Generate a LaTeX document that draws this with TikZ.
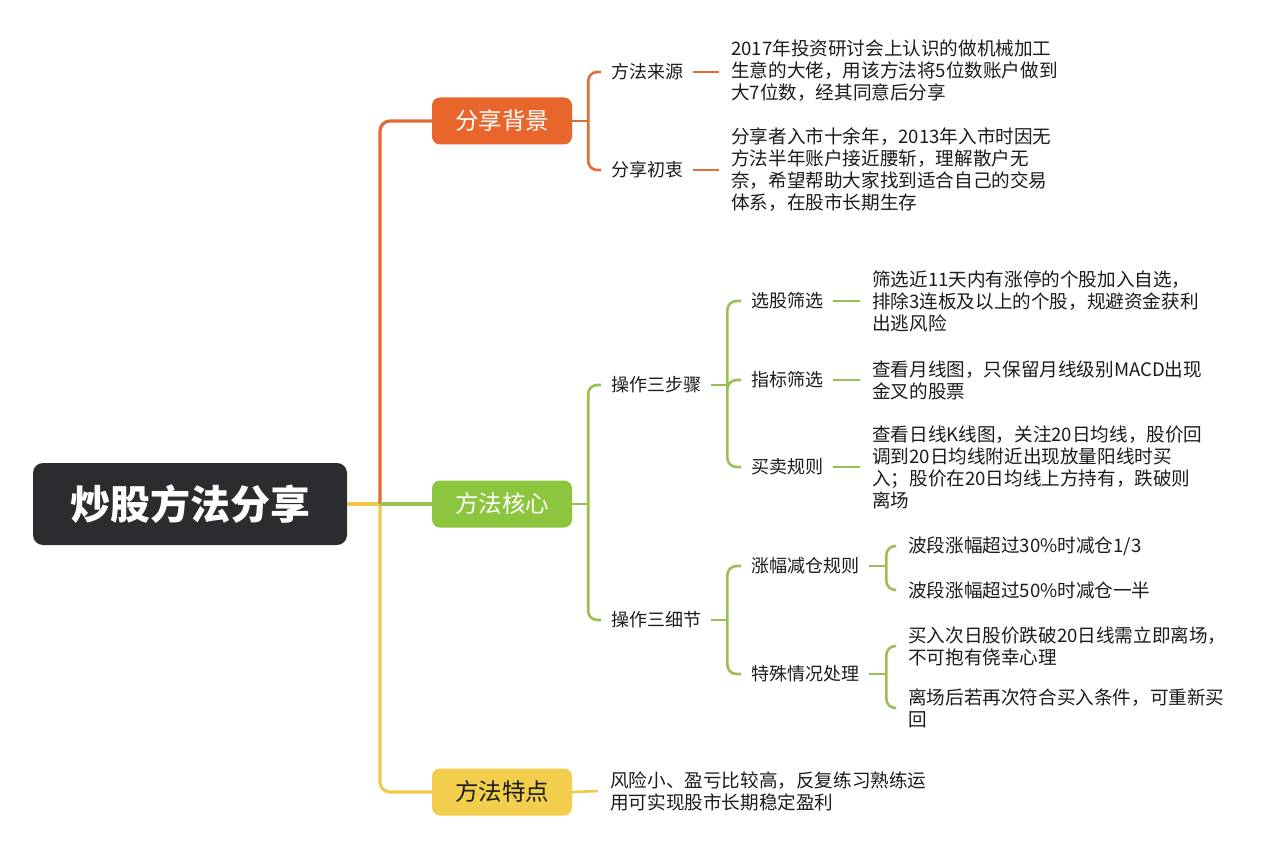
\documentclass[tikz,border=0pt]{standalone}
\usepackage{fontspec}
\setmainfont{Noto Sans CJK SC}
\definecolor{rootc}{HTML}{2B2C30}
\definecolor{obox}{HTML}{E8662C}
\definecolor{oline}{HTML}{E36B36}
\definecolor{gbox}{HTML}{8CC63E}
\definecolor{gline}{HTML}{9CBF54}
\definecolor{ybox}{HTML}{F3CD4C}
\definecolor{yline}{HTML}{F2C94C}
\definecolor{txt}{HTML}{1C1C1C}
\tikzset{
  lbl/.style={inner xsep=10pt, inner ysep=2pt, anchor=west, font=\fontsize{18}{22}\selectfont, text=txt},
  leaf/.style={inner xsep=12pt, inner ysep=2pt, align=left, anchor=west, font=\fontsize{18.6}{22}\selectfont, text=txt},
  mainbox/.style={rounded corners=8pt, minimum width=140pt, minimum height=47pt, inner sep=0pt, font=\fontsize{23.5}{26}\selectfont},
  conn/.style={line width=2.6pt, rounded corners=9pt},
  trunk/.style={line width=3.2pt, rounded corners=10pt},
}
\begin{document}
\begin{tikzpicture}[x=1pt,y=-1pt]
\fill[white] (0,0) rectangle (1280,856);
\useasboundingbox (0,0) rectangle (1280,856);

% root and main branches
\node[fill=rootc, rounded corners=10pt, minimum width=314pt, minimum height=82pt, inner sep=0pt, text=white, font=\fontsize{40}{42}\selectfont\bfseries] (root) at (190,504) {炒股方法分享};
\node[mainbox, fill=obox, text=white] (bg) at (502,121) {分享背景};
\node[mainbox, fill=gbox, text=white] (core) at (502,504) {方法核心};
\node[mainbox, fill=ybox, text=txt] (feat) at (502,792) {方法特点};

\coordinate (J) at (380,504);
\draw[trunk, yline] (root.east) -- (J);
\draw[trunk, oline] (J) |- (bg.west);
\draw[trunk, yline] (J) |- (feat.west);
\draw[trunk, gline] (J) -- (core.west);

% 分享背景
\node[lbl] (src) at (601,72) {方法来源};
\node[lbl] (aim) at (601,170) {分享初衷};
\node[leaf] (srcL) at (719,71) {2017年投资研讨会上认识的做机械加工\\生意的大佬，用该方法将5位数账户做到\\大7位数，经其同意后分享};
\node[leaf] (aimL) at (719,170) {分享者入市十余年，2013年入市时因无\\方法半年账户接近腰斩，理解散户无\\奈，希望帮助大家找到适合自己的交易\\体系，在股市长期生存};
\draw[conn, oline] (bg.east) -- ++(16,0) coordinate (bgJ);
\draw[conn, oline] (bgJ) |- (src.west);
\draw[conn, oline] (bgJ) |- (aim.west);
\draw[conn, oline] (src.east) -- (srcL.west |- src.east);
\draw[conn, oline] (aim.east) -- (aimL.west);

% 方法核心
\node[lbl] (steps) at (601,385) {操作三步骤};
\node[lbl] (dets) at (601,620) {操作三细节};
\draw[conn, gline] (core.east) -- ++(16,0) coordinate (coJ);
\draw[conn, gline] (coJ) |- (steps.west);
\draw[conn, gline] (coJ) |- (dets.west);

\node[lbl] (pick) at (741,301) {选股筛选};
\node[lbl] (ind) at (741,380) {指标筛选};
\node[lbl] (trade) at (741,467) {买卖规则};
\draw[conn, gline] (steps.east) -- ++(16,0) coordinate (stJ);
\draw[conn, gline] (stJ) |- (pick.west);
\draw[conn, gline] (stJ) |- (ind.west);
\draw[conn, gline] (stJ) |- (trade.west);

\node[leaf] (pickL) at (860,301) {筛选近11天内有涨停的个股加入自选，\\排除3连板及以上的个股，规避资金获利\\出逃风险};
\node[leaf] (indL) at (860,380) {查看月线图，只保留月线级别MACD出现\\金叉的股票};
\node[leaf] (tradeL) at (860,467) {查看日线K线图，关注20日均线，股价回\\调到20日均线附近出现放量阳线时买\\入；股价在20日均线上方持有，跌破则\\离场};
\draw[conn, gline] (pick.east) -- (pickL.west);
\draw[conn, gline] (ind.east) -- (indL.west);
\draw[conn, gline] (trade.east) -- (tradeL.west);

\node[lbl] (cut) at (741,566) {涨幅减仓规则};
\node[lbl] (spec) at (741,674) {特殊情况处理};
\draw[conn, gline] (dets.east) -- ++(16,0) coordinate (deJ);
\draw[conn, gline] (deJ) |- (cut.west);
\draw[conn, gline] (deJ) |- (spec.west);

\node[leaf] (r30) at (896,546) {波段涨幅超过30\%时减仓1/3};
\node[leaf] (r50) at (896,590) {波段涨幅超过50\%时减仓一半};
\draw[conn, gline] (cut.east) -- ++(17,0) coordinate (cuJ);
\draw[conn, gline] (cuJ) |- (r30.west);
\draw[conn, gline] (cuJ) |- (r50.west);

\node[leaf] (sp1) at (896,646) {买入次日股价跌破20日线需立即离场，\\不可抱有侥幸心理};
\node[leaf] (sp2) at (896,708) {离场后若再次符合买入条件，可重新买\\回};
\draw[conn, gline] (spec.east) -- ++(17,0) coordinate (spJ);
\draw[conn, gline] (spJ) |- (sp1.west);
\draw[conn, gline] (spJ) |- (sp2.west);

% 方法特点
\node[leaf] (featL) at (598,791) {风险小、盈亏比较高，反复练习熟练运\\用可实现股市长期稳定盈利};
\draw[conn, yline] (feat.east) -- (featL.west);
\end{tikzpicture}
\end{document}
